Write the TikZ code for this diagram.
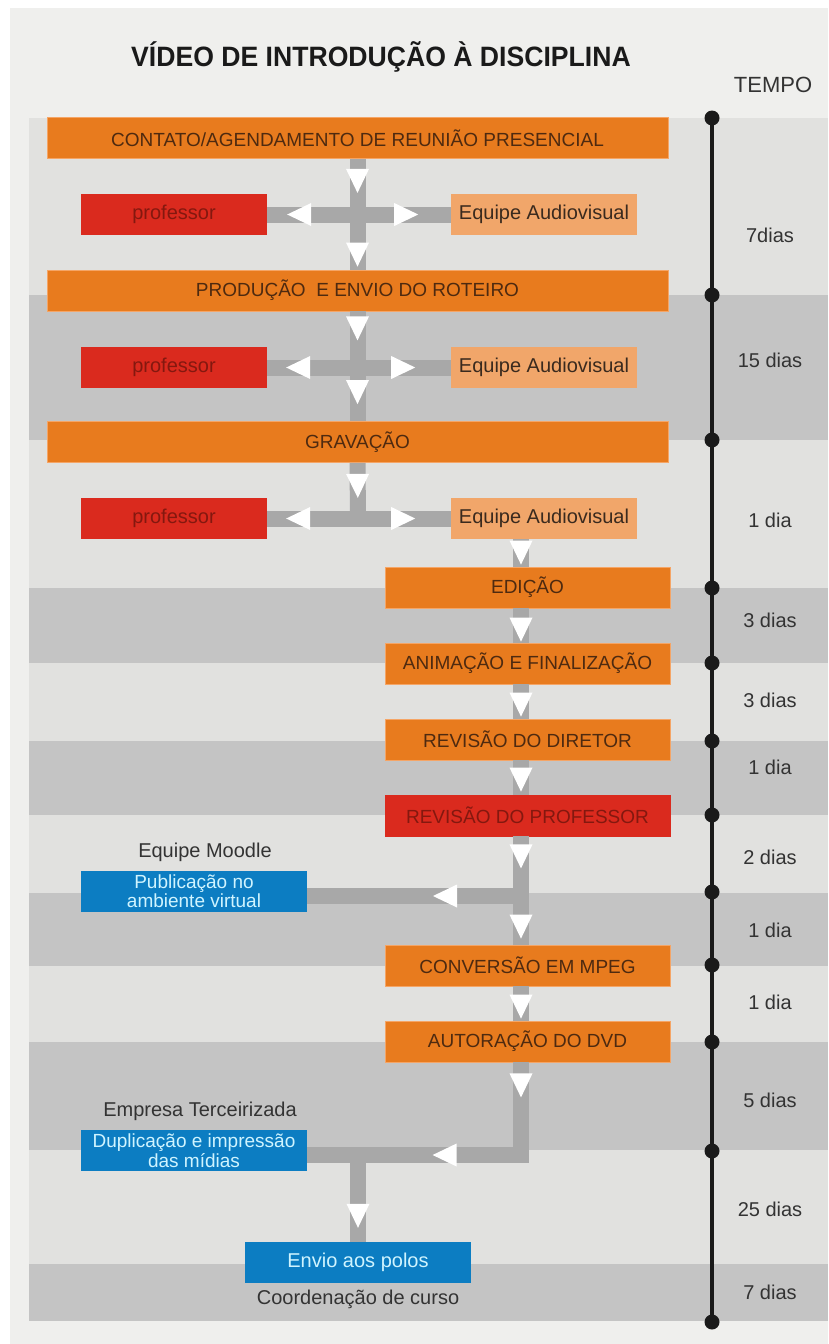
\documentclass[tikz,border=0pt]{standalone}
\usepackage{fontspec}
\setmainfont{Liberation Sans}
\newfontfamily\titlefont[FakeStretch=0.95]{Liberation Sans}
\usetikzlibrary{positioning,decorations.markings}
\definecolor{panelgray}{HTML}{EFEFED}
\definecolor{bandlight}{HTML}{E1E1DF}
\definecolor{banddark}{HTML}{C4C4C4}
\definecolor{orangebox}{HTML}{E87B1E}
\definecolor{orangeedge}{HTML}{F5A566}
\definecolor{orangetext}{HTML}{4E2A10}
\definecolor{redbox}{HTML}{DA2A1E}
\definecolor{redtext}{HTML}{84180F}
\definecolor{peachbox}{HTML}{F1A66A}
\definecolor{peachtext}{HTML}{3A2A1E}
\definecolor{bluefill}{HTML}{0C7DC2}
\definecolor{bluetext}{HTML}{CFF4FF}
\definecolor{bargray}{HTML}{A8A8A8}
\definecolor{labeltext}{HTML}{333333}
\definecolor{lineblack}{HTML}{1A1A1A}
\tikzset{
  stepbox/.style={rectangle, minimum width=621pt, minimum height=41pt, inner sep=0pt, fill=orangebox, draw=orangeedge, line width=0.8pt, text=orangetext, font=\fontsize{19}{21}\selectfont},
  shortbox/.style={stepbox, minimum width=285pt},
  profbox/.style={rectangle, minimum width=186pt, minimum height=41pt, inner sep=0pt, fill=redbox, text=redtext, font=\fontsize{20}{22}\selectfont},
  teambox/.style={profbox, fill=peachbox, text=peachtext},
  webbox/.style={rectangle, minimum width=226pt, minimum height=41pt, inner sep=0pt, fill=bluefill, text=bluetext, align=center, font=\fontsize{19}{19.5}\selectfont},
  caption/.style={text=labeltext, font=\fontsize{20}{22}\selectfont},
  timetext/.style={text=labeltext, font=\fontsize{20}{22}\selectfont},
  bar/.style={draw=bargray, line width=16pt},
  tipat/.style={postaction={decorate, decoration={markings, mark=at position #1 with {\fill[white] (0pt,0pt) -- (-24pt,11.5pt) -- (-24pt,-11.5pt) -- cycle;}}}},
  tipback/.style={postaction={decorate, decoration={markings, mark=at position #1 with {\fill[white] (0pt,0pt) -- (24pt,11.5pt) -- (24pt,-11.5pt) -- cycle;}}}}
}
\begin{document}
\begin{tikzpicture}[x=1pt, y=-1pt, node distance=76pt]
  \useasboundingbox (0,0) rectangle (828,1344);
  \fill[white] (0,0) rectangle (828,1344);
  \fill[panelgray] (10,8) rectangle (828,1344);
  % faixas de tempo
  \foreach \ya/\yb/\c in {118/295/bandlight, 295/440/banddark, 440/588/bandlight, 588/663/banddark, 663/741/bandlight, 741/815/banddark, 815/893/bandlight, 893/966/banddark, 966/1042/bandlight, 1042/1150/banddark, 1150/1264/bandlight, 1264/1321/banddark}
    \fill[\c] (29,\ya) rectangle (828,\yb);

  \node (title)[text=lineblack, font=\titlefont\bfseries\fontsize{28}{32}\selectfont] at (381,57) {VÍDEO DE INTRODUÇÃO À DISCIPLINA};
  \node (tempo)[timetext, font=\fontsize{22}{24}\selectfont] at (773,85) {TEMPO};

  % etapas
  \node (ct)[stepbox] at (357.5,138) {CONTATO/AGENDAMENTO DE REUNIÃO PRESENCIAL};
  \node (pr1)[profbox] at (174,214.5) {professor};
  \node (eq1)[teambox] at (544,214.5) {Equipe Audiovisual};
  \node (pd)[stepbox] at (357.5,290.5) {PRODUÇÃO\ \ E ENVIO DO ROTEIRO};
  \node (pr2)[profbox] at (174,367.5) {professor};
  \node (eq2)[teambox] at (544,367.5) {Equipe Audiovisual};
  \node (gr)[stepbox] at (357.5,442) {GRAVAÇÃO};
  \node (pr3)[profbox] at (174,518.5) {professor};
  \node (eq3)[teambox] at (544,518.5) {Equipe Audiovisual};
  \node (ed)[shortbox] at (527.5,587.5) {EDIÇÃO};
  \node (an)[shortbox, below of=ed] {ANIMAÇÃO E FINALIZAÇÃO};
  \node (rd)[shortbox, below of=an] {REVISÃO DO DIRETOR};
  \node (rp)[shortbox, below of=rd, fill=redbox, draw=redbox, text=redtext] {REVISÃO DO PROFESSOR};
  \node (moodle)[caption] at (205,852) {Equipe Moodle};
  \node (pub)[webbox] at (194,891) {Publicação no\\ambiente virtual};
  \node (cv)[shortbox] at (527.5,965.5) {CONVERSÃO EM MPEG};
  \node (au)[shortbox, below of=cv] {AUTORAÇÃO DO DVD};
  \node (firm)[caption] at (200,1111) {Empresa Terceirizada};
  \node (dup)[webbox] at (194,1150.5) {Duplicação e impressão\\das mídias};
  \node (env)[webbox, font=\fontsize{20}{22}\selectfont] at (358,1262.5) {Envio aos polos};
  \node (coord)[caption] at (358,1299) {Coordenação de curso};

  \coordinate (spine) at (521,0);
  \coordinate (c3) at (358,518.5);
  \coordinate (c4) at (521,896);
  \coordinate (c5) at (521,1155);
  \coordinate (c6) at (358,1155);

  % conectores
  \draw[bar, tipat=34pt, tipat=-3pt] (ct.south) -- (pd.north);
  \draw[bar, tipback=20pt, tipat=151pt] (pr1.east) -- (eq1.west);
  \draw[bar, tipat=29pt, tipat=-17pt] (pd.south) -- (gr.north);
  \draw[bar, tipback=19pt, tipat=148pt] (pr2.east) -- (eq2.west);
  \draw[bar, tipat=35pt] (gr.south) -- (c3);
  \draw[bar, tipback=19pt, tipat=148pt] (pr3.east) -- (eq3.west);
  \draw[bar, tipat=-2pt] (eq3.south -| spine) -- (ed.north -| spine);
  \draw[bar, tipat=-1pt] (ed.south -| spine) -- (an.north -| spine);
  \draw[bar, tipat=-2pt] (an.south -| spine) -- (rd.north -| spine);
  \draw[bar, tipat=-3pt] (rd.south -| spine) -- (rp.north -| spine);
  \draw[bar, tipat=32pt, tipat=-6pt] (rp.south -| spine) -- (cv.north -| spine);
  \draw[bar, tipat=88pt] (c4) -- (pub.east |- c4);
  \draw[bar, tipat=-2pt] (cv.south -| spine) -- (au.north -| spine);
  \draw[bar, tipat=35pt, tipat=181pt] (au.south -| spine) -- (c5) -- (dup.east |- c5);
  \draw[bar, tipat=-14pt] (c6) -- (env.north);

  % linha do tempo
  \coordinate (ttop) at (712,118);
  \coordinate (tbot) at (712,1322);
  \draw[lineblack, line width=4pt] (ttop) -- (tbot);
  \foreach \y in {118,295,440,588,663,741,815,892,965,1042,1151,1322}
    \fill[lineblack] (712,\y) circle (7.5pt);
  \foreach \y/\t in {235/7dias, 360/15 dias, 520/1 dia, 620/3 dias, 700/3 dias, 767/1 dia, 857/2 dias, 930/1 dia, 1002/1 dia, 1100/5 dias, 1209/25 dias, 1292/7 dias}
    \node (t\y)[timetext] at (770,\y) {\t};
\end{tikzpicture}
\end{document}
